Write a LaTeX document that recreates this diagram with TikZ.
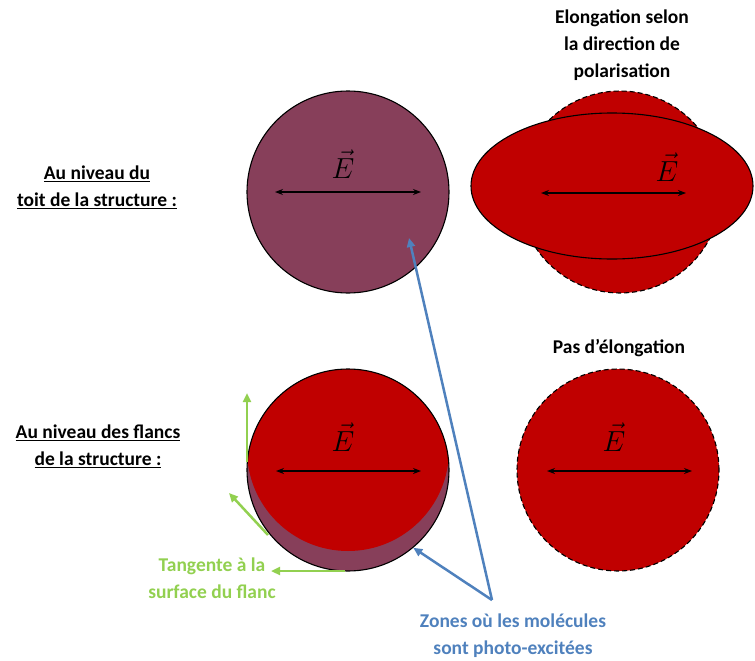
\RequirePackage{fix-cm}
\documentclass[tikz,border=0pt]{standalone}
\usepackage{fontspec}
\setmainfont{Carlito}
\usetikzlibrary{arrows.meta}
\definecolor{discred}{HTML}{C00000}
\definecolor{discmauve}{HTML}{873F5A}
\definecolor{zoneblue}{HTML}{4F81BD}
\definecolor{tangreen}{HTML}{92D050}
\newcommand{\champ}{{\fontsize{29}{32}\selectfont$\vec{E}$}}

\begin{document}
\begin{tikzpicture}[
  x=1pt, y=-1pt,
  disc/.style={circle, draw=black, line width=1.1pt, minimum size=202pt, inner sep=0pt},
  label/.style={font=\fontsize{19.5}{27}\selectfont\bfseries, align=center},
  field/.style={<->, >={Stealth[length=8pt,width=6pt]}, line width=1.3pt},
  zone/.style={->, >={Triangle[length=9pt,width=8pt]}, line width=2.5pt, color=zoneblue},
  tangent/.style={->, >={Triangle[length=9pt,width=8pt]}, line width=2.5pt, color=tangreen},
  outline dash/.style={dash pattern=on 5pt off 3pt}
]
  \useasboundingbox (0,0) rectangle (755,661);

  % row titles
  \node[label] (toitlbl)   at (97,187) {\underline{Au niveau du}\\\underline{toit de la structure :}};
  \node[label] (flanclbl)  at (98,446) {\underline{Au niveau des flancs}\\\underline{de la structure :}};
  \node[label] (elonglbl)  at (622,45) {Elongation selon\\la direction de\\polarisation};
  \node[label] (paslbl)    at (619,348) {Pas d'élongation};

  % toit, no stretch
  \node[disc, fill=discmauve] (toit) at (348,192) {};
  \node (toitE) at (343,164) {\champ};
  \draw[field] (275,192) -- (421,192);

  % toit, stretched along the field
  \node[disc, outline dash, fill=discred] (toitpol) at (620,192) {};
  \draw[fill=discred, line width=1.1pt] (612,186) ellipse [x radius=141pt, y radius=73pt];
  \node (toitpolE) at (667,167) {\champ};
  \draw[field] (541,193) -- (686,193);

  % flanc, seen tilted
  \fill[discmauve] (348,470) circle (101pt);
  \begin{scope}
    \clip (348,470) circle (101pt);
    \fill[discred] (348,450) circle (101pt);
  \end{scope}
  \node[disc] (flanc) at (348,470) {};
  \node (flancE) at (343,437) {\champ};
  \draw[field] (276,471) -- (421,471);

  % flanc, no stretch
  \node[disc, outline dash, fill=discred] (flancpas) at (618,470) {};
  \node (flancpasE) at (614,437) {\champ};
  \draw[field] (547,471) -- (692,471);

  % tangents
  \coordinate (tgA) at (247,462);
  \coordinate (tgB) at (268,535);
  \coordinate (tgC) at (345,571);
  \draw[tangent] (tgA) -- (247,393);
  \draw[tangent] (tgB) -- (229,493);
  \draw[tangent] (tgC) -- (271,571);
  \node[label, text=tangreen] (tglbl) at (212,578) {Tangente à la\\surface du flanc};

  % excited zones
  \node[label, text=zoneblue] (zones) at (513,636) {Zones où les molécules\\sont photo-excitées};
  \coordinate (src) at (492,600);
  \coordinate (toitzone) at (409,238);
  \draw[zone] (src) -- (toitzone);
  \draw[zone] (src) -- (flanc.-50);
\end{tikzpicture}
\end{document}
